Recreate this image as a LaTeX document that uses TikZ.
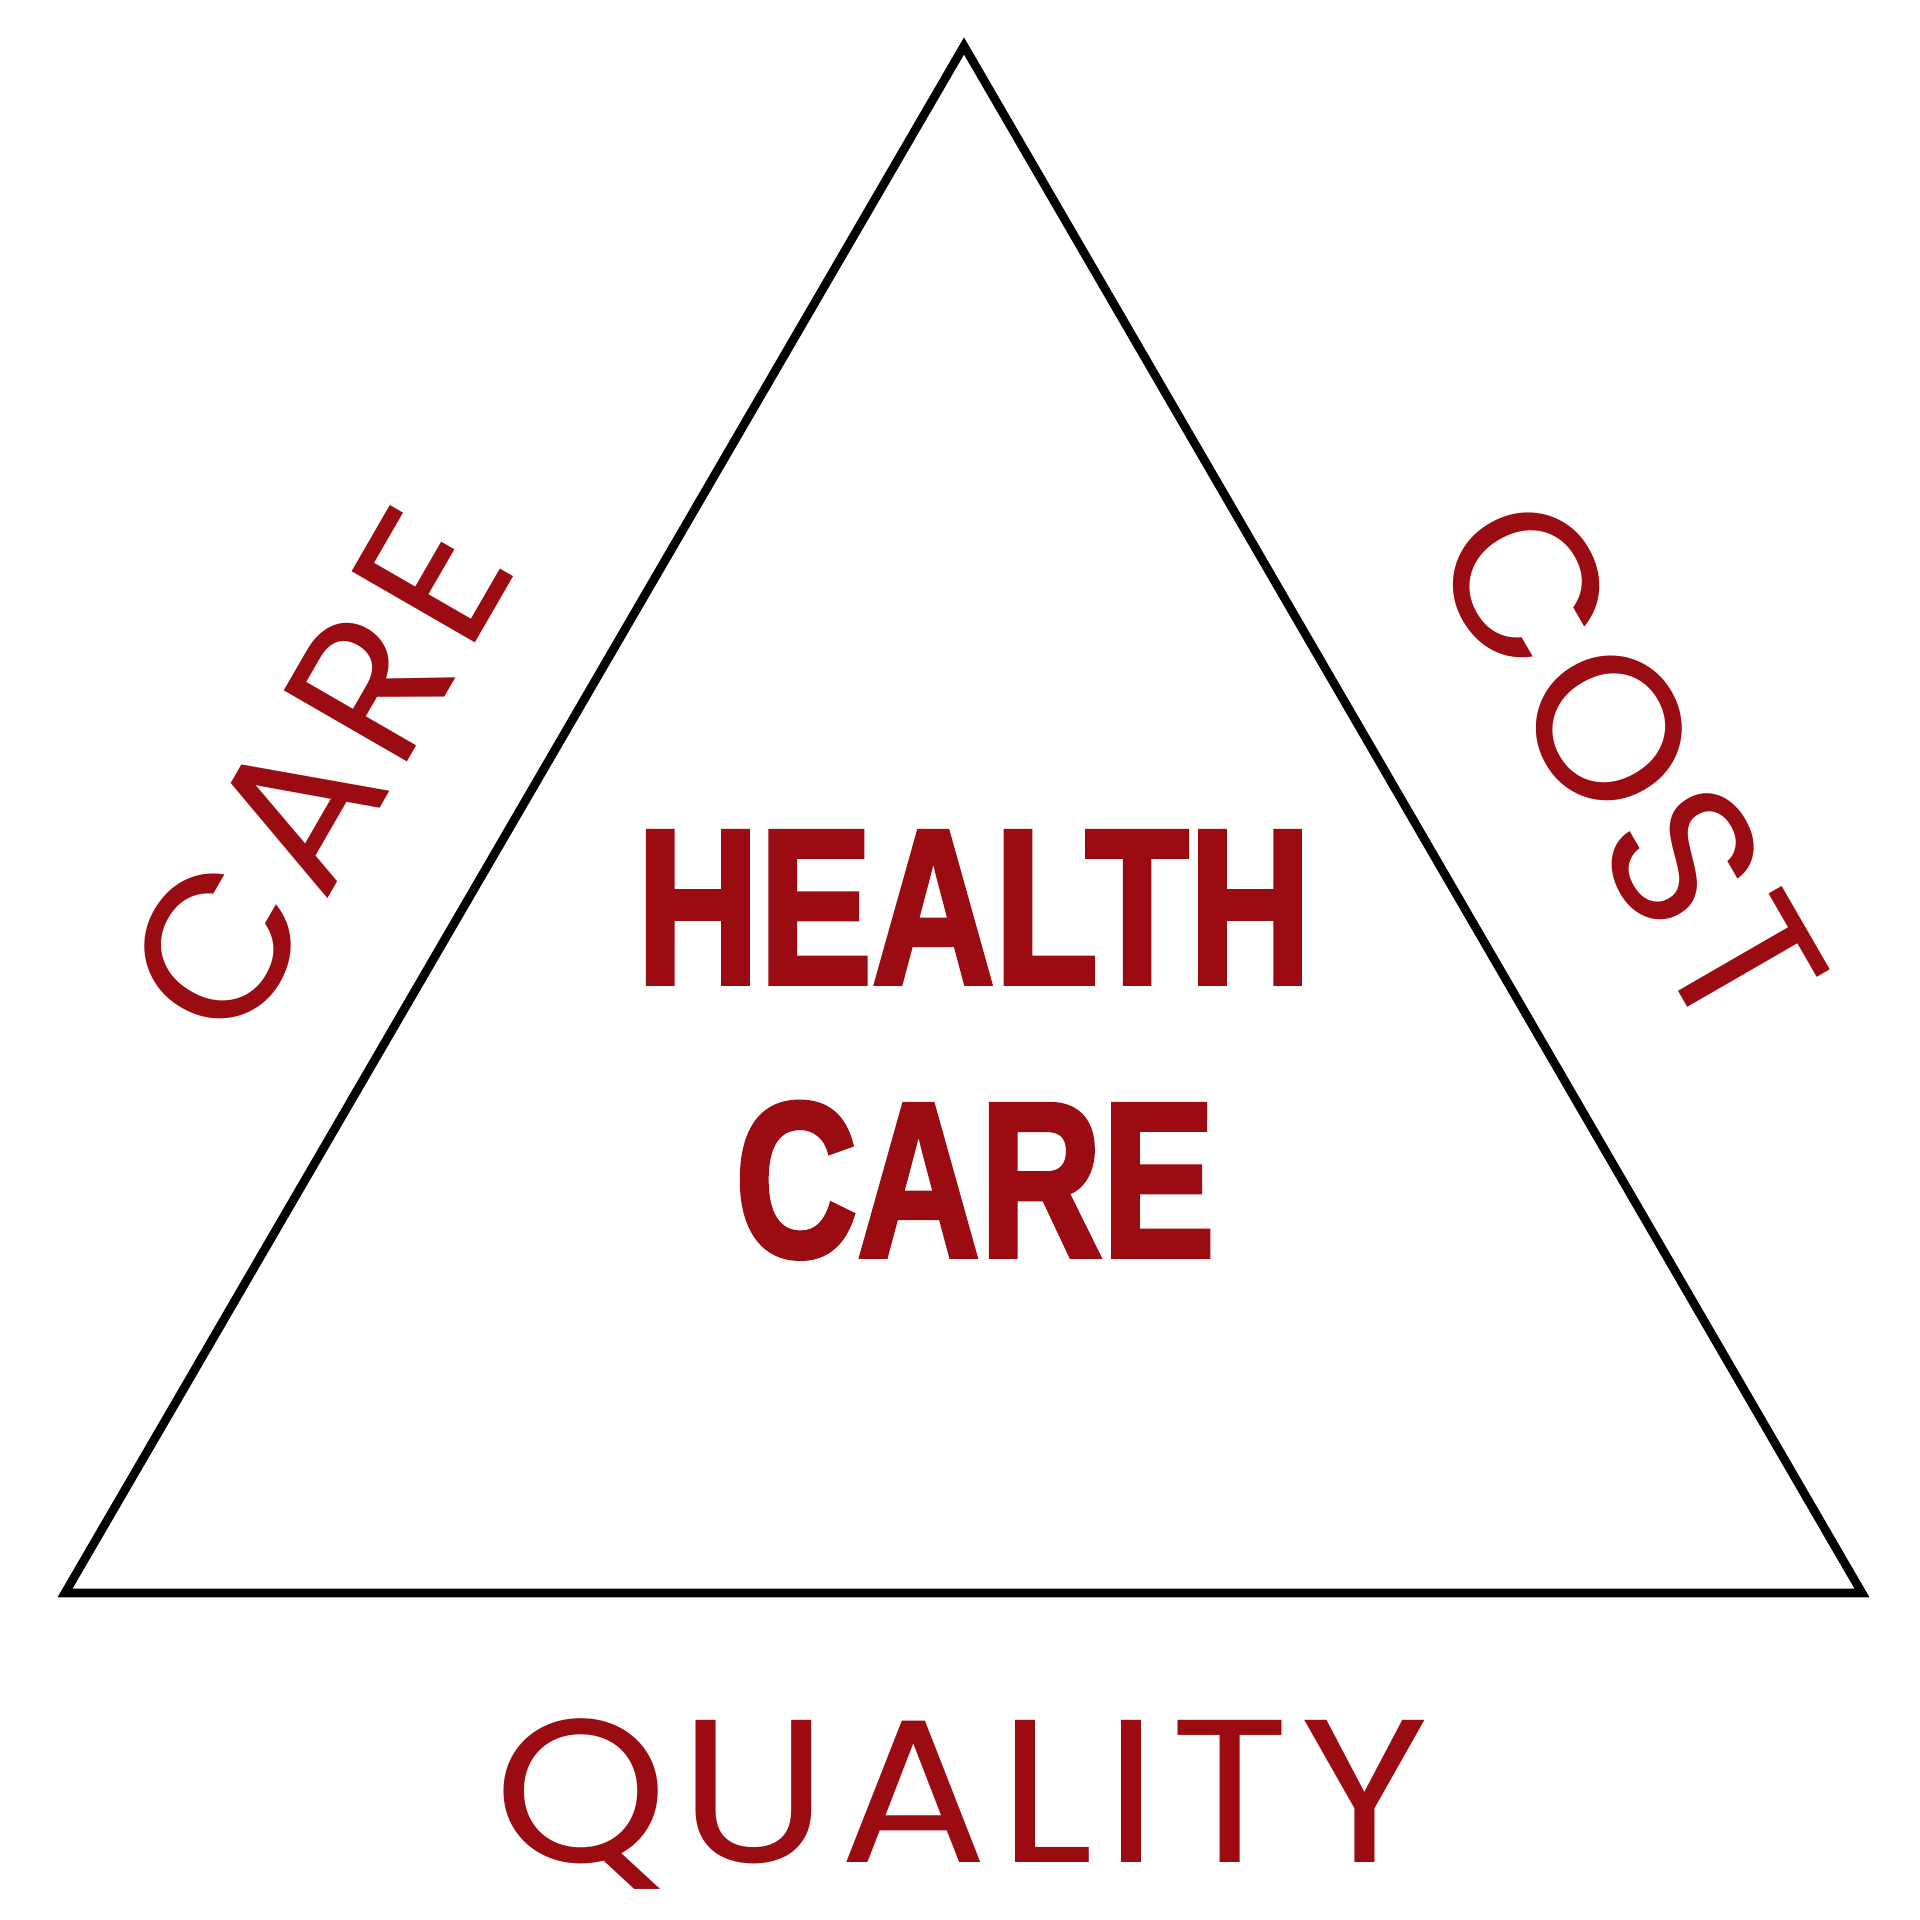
\documentclass[tikz,border=0pt]{standalone}
\usepackage{fontspec}
\newfontfamily\labelfont{Poppins}[LetterSpace=4]
\newfontfamily\carefont{Poppins}[LetterSpace=6]
\newfontfamily\qualfont{Poppins}[LetterSpace=5]
\newfontfamily\headfont{Liberation Sans}
\definecolor{hcred}{HTML}{9B0B12}
\newcommand{\heavytext}[1]{\special{pdf:literal direct 2 Tr 2.8 w}#1\special{pdf:literal direct 0 Tr}}
\tikzset{
  tri/.style={draw=black,line width=4.3pt,line join=miter},
  sidelabel/.style={text=hcred,inner sep=0pt,anchor=base,font=\labelfont\fontsize{102pt}{102pt}\selectfont},
  carelabel/.style={text=hcred,inner sep=0pt,anchor=base,font=\carefont\fontsize{102pt}{102pt}\selectfont},
  quallabel/.style={text=hcred,inner sep=0pt,anchor=base,font=\qualfont\fontsize{102pt}{102pt}\selectfont},
  headlabel/.style={text=hcred,inner sep=0pt,anchor=base,font=\headfont\bfseries\fontsize{110pt}{110pt}\selectfont}
}
\begin{document}
\begin{tikzpicture}[x=0.5pt,y=-0.5pt]
\useasboundingbox[fill=white] (0,0) rectangle (1920,1920);
\coordinate (apex) at (964,46);
\coordinate (bl) at (65,1593);
\coordinate (br) at (1862,1593);
\draw[tri] (apex) -- (bl) -- (br) -- cycle;
\node[headlabel] (health) at (974,983) {\scalebox{0.77}[1]{\heavytext{HEALTH}}};
\node[headlabel] (care) at (975,1256) {\scalebox{0.77}[1]{\heavytext{CARE}}};
\node[carelabel,rotate=60] (carelbl) at (380,809) {CARE};
\node[sidelabel,rotate=-60] (costlbl) at (1568,799) {COST};
\node[quallabel] (quality) at (962,1862) {\scalebox{1.08}[1]{QUALITY}};
\end{tikzpicture}
\end{document}
